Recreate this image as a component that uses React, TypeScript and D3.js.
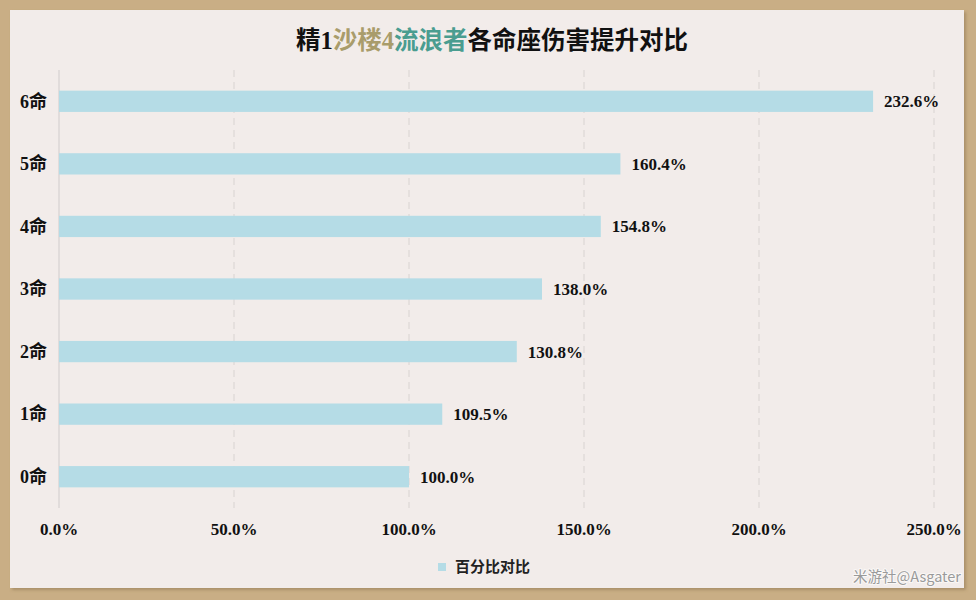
import * as d3 from 'd3'

// constellation levels, top to bottom
const categories = ['6命', '5命', '4命', '3命', '2命', '1命', '0命']
const values = [232.6, 160.4, 154.8, 138.0, 130.8, 109.5, 100.0]
const xTicks = [0, 50, 100, 150, 200, 250]
const seriesName = '百分比对比'
const titleParts = [
  { text: '精1', color: '#111' },
  { text: '沙楼4', color: '#a99c6b' },
  { text: '流浪者', color: '#4a9d90' },
  { text: '各命座伤害提升对比', color: '#111' },
]

const serif = '"Liberation Serif", "Noto Sans CJK SC", serif'
const sans = '"Noto Sans CJK SC", "Noto Sans", sans-serif'

export default function App() {
  const width = 976
  const height = 600
  const plot = { left: 59, right: 934, top: 70, bottom: 508 }

  const x = d3.scaleLinear().domain([0, 250]).range([plot.left, plot.right])
  const y = d3.scaleBand<string>()
    .domain(categories)
    .range([plot.top, plot.bottom])
    .paddingInner(0.66)
    .paddingOuter(0.33)

  const fmt = (v: number) => `${v.toFixed(1)}%`

  return (
    <svg width={width} height={height} viewBox={`0 0 ${width} ${height}`}
      style={{ position: 'absolute', left: 0, top: 0, display: 'block' }}>
      <defs>
        <filter id="sh" x="-5%" y="-5%" width="110%" height="110%">
          <feDropShadow dx="2" dy="2" stdDeviation="1.5" floodColor="#8a6f48" floodOpacity="0.5" />
        </filter>
      </defs>
      <rect x={0} y={0} width={width} height={height} fill="#c9ae85" />
      <rect x={10} y={10} width={954} height={578} fill="#f2ecea" filter="url(#sh)" />

      {/* title */}
      <text x={492} y={49} textAnchor="middle" fontFamily={serif} fontWeight="bold" fontSize={24.5}>
        {titleParts.map(p => (
          <tspan key={p.text} fill={p.color}>{p.text}</tspan>
        ))}
      </text>

      {/* grid */}
      {xTicks.map(t => (
        <line key={t} x1={x(t)} x2={x(t)} y1={plot.top} y2={plot.bottom}
          stroke={t === 0 ? '#d6d2d0' : '#dcd7d5'} strokeWidth={1.2}
          strokeDasharray={t === 0 ? undefined : '7,5'} />
      ))}

      {/* bars */}
      {categories.map((c, i) => (
        <g key={c}>
          <rect x={x(0)} y={y(c)!} width={x(values[i]) - x(0)} height={y.bandwidth()} fill="#b5dce6" />
          <text x={x(values[i]) + 11} y={y(c)! + y.bandwidth() / 2} dy="0.35em"
            fontFamily={serif} fontWeight="bold" fontSize={17} fill="#111">
            {fmt(values[i])}
          </text>
          <text x={47} y={y(c)! + y.bandwidth() / 2} dy="0.35em" textAnchor="end"
            fontFamily={serif} fontWeight="bold" fontSize={18} fill="#111">
            {c}
          </text>
        </g>
      ))}

      {/* x tick labels */}
      {xTicks.map(t => (
        <text key={t} x={x(t)} y={529} dy="0.35em" textAnchor="middle"
          fontFamily={serif} fontWeight="bold" fontSize={17} fill="#111">
          {fmt(t)}
        </text>
      ))}

      {/* legend */}
      <rect x={438} y={563} width={8} height={8} fill="#b5dce6" />
      <text x={455} y={567} dy="0.35em" fontFamily={sans} fontWeight="bold" fontSize={15} fill="#222">
        {seriesName}
      </text>

      {/* watermark */}
      <text x={961} y={577} dy="0.35em" textAnchor="end" fontFamily={sans} fontSize={14.5}
        fill="#9a9a9a" stroke="#ffffff" strokeWidth={2} strokeOpacity={0.6} paintOrder="stroke">
        米游社@Asgater
      </text>
    </svg>
  )
}
